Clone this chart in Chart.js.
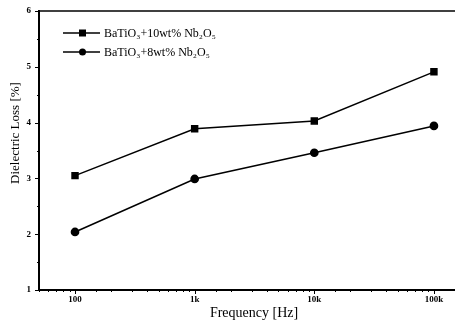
<!DOCTYPE html>
<html lang="en">
<head>
    <meta charset="UTF-8">
    <title>Dielectric Loss vs Frequency</title>
    <script src="https://cdn.jsdelivr.net/npm/chart.js"></script>
    <style>
        body { margin: 0; background: #fff; }
        #wrap { width: 455px; height: 325px; position: relative; }
    </style>
</head>
<body>
    <div id="wrap"><canvas id="lossChart"></canvas></div>
    <script>
        // data
        const frequencies = [100, 1000, 10000, 100000];
        const loss10wt = [3.05, 3.89, 4.03, 4.91];
        const loss8wt = [2.04, 2.99, 3.46, 3.94];
        const seriesNames = ['BaTiO\u2083+10wt% Nb\u2082O\u2085', 'BaTiO\u2083+8wt% Nb\u2082O\u2085'];
        const xTickValues = [100, 1000, 10000, 100000];
        const xTickLabels = ['100', '1k', '10k', '100k'];
        const yTickValues = [1, 2, 3, 4, 5, 6];

        const serif = "'Liberation Serif', 'DejaVu Serif', serif";

        function toPoints(ys) {
            return frequencies.map((f, i) => ({ x: f, y: ys[i] }));
        }

        // ticks, border, titles and the in-plot legend
        const extras = {
            id: 'extras',
            afterDraw(chart) {
                const ctx = chart.ctx;
                const area = chart.chartArea;
                const xs = chart.scales.x;
                const ys = chart.scales.y;
                ctx.save();
                ctx.strokeStyle = '#000';

                // top frame line
                ctx.lineWidth = 1.5;
                ctx.beginPath();
                ctx.moveTo(area.left, area.top);
                ctx.lineTo(area.right, area.top);
                ctx.stroke();

                // x ticks (log minors)
                ctx.lineWidth = 1;
                xs.ticks.forEach(t => {
                    const px = Math.round(xs.getPixelForValue(t.value)) + 0.5;
                    const len = xTickValues.includes(t.value) ? 4 : 2;
                    ctx.beginPath();
                    ctx.moveTo(px, area.bottom);
                    ctx.lineTo(px, area.bottom + len);
                    ctx.stroke();
                });
                // y ticks
                ys.ticks.forEach(t => {
                    const py = Math.round(ys.getPixelForValue(t.value)) + 0.5;
                    const len = yTickValues.includes(t.value) ? 4 : 2;
                    ctx.beginPath();
                    ctx.moveTo(area.left - len, py);
                    ctx.lineTo(area.left, py);
                    ctx.stroke();
                });

                // axis titles
                ctx.fillStyle = '#000';
                ctx.textAlign = 'center';
                ctx.textBaseline = 'middle';
                ctx.font = '14px ' + serif;
                ctx.fillText('Frequency [Hz]', 254, 313);
                ctx.save();
                ctx.translate(16, 133);
                ctx.rotate(-Math.PI / 2);
                ctx.font = '13px ' + serif;
                ctx.fillText('Dielectric Loss [%]', 0, 0);
                ctx.restore();

                // legend
                ctx.textAlign = 'left';
                ctx.font = '12px ' + serif;
                chart.data.datasets.forEach((ds, i) => {
                    const y = 33 + i * 19;
                    ctx.lineWidth = 1.5;
                    ctx.beginPath();
                    ctx.moveTo(63, y);
                    ctx.lineTo(100, y);
                    ctx.stroke();
                    ctx.beginPath();
                    if (ds.pointStyle === 'rect') {
                        ctx.fillRect(79, y - 3.5, 7, 7);
                    } else {
                        ctx.arc(82.5, y, 3.5, 0, Math.PI * 2);
                        ctx.fill();
                    }
                    ctx.fillText(ds.label, 104, y + 1);
                });
                ctx.restore();
            }
        };

        new Chart(document.getElementById('lossChart'), {
            type: 'line',
            data: {
                datasets: [
                    {
                        label: seriesNames[0],
                        data: toPoints(loss10wt),
                        borderColor: '#000',
                        backgroundColor: '#000',
                        borderWidth: 1.5,
                        pointStyle: 'rect',
                        pointRadius: 4.2,
                        tension: 0
                    },
                    {
                        label: seriesNames[1],
                        data: toPoints(loss8wt),
                        borderColor: '#000',
                        backgroundColor: '#000',
                        borderWidth: 1.5,
                        pointStyle: 'circle',
                        pointRadius: 3.6,
                        tension: 0
                    }
                ]
            },
            options: {
                responsive: true,
                maintainAspectRatio: false,
                animation: false,
                layout: {
                    autoPadding: false,
                    padding: { top: 11, right: 0, left: 0, bottom: 0 }
                },
                plugins: {
                    legend: { display: false },
                    tooltip: { enabled: false }
                },
                scales: {
                    x: {
                        type: 'logarithmic',
                        min: 50,
                        max: 150000,
                        afterFit: s => {
                            s.height = 35;
                            s.paddingLeft = 0;
                            s.paddingRight = 0;
                        },
                        grid: { display: false, drawTicks: false },
                        border: { display: true, color: '#000', width: 2 },
                        ticks: {
                            autoSkip: false,
                            maxRotation: 0,
                            padding: 4,
                            color: '#000',
                            font: { family: serif, size: 9, weight: 'bold' },
                            callback: v => {
                                const i = xTickValues.indexOf(v);
                                return i >= 0 ? xTickLabels[i] : '';
                            }
                        }
                    },
                    y: {
                        min: 1,
                        max: 6,
                        afterFit: s => {
                            s.width = 39;
                            s.paddingTop = 0;
                            s.paddingBottom = 0;
                        },
                        grid: { display: false, drawTicks: false },
                        border: { display: true, color: '#000', width: 2 },
                        ticks: {
                            stepSize: 0.5,
                            autoSkip: false,
                            padding: 8,
                            color: '#000',
                            font: { family: serif, size: 9, weight: 'bold' },
                            callback: v => yTickValues.includes(v) ? String(v) : ''
                        }
                    }
                }
            },
            plugins: [extras]
        });
    </script>
</body>
</html>
